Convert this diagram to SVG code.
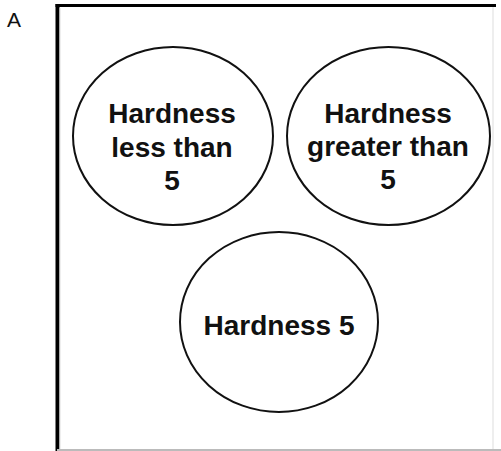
<svg xmlns="http://www.w3.org/2000/svg" width="501" height="451" viewBox="0 0 501 451">
<style>
.node ellipse{fill:#fff;stroke:#111;stroke-width:2}
.node text{font-family:"Liberation Sans",Arial,sans-serif;font-weight:bold;font-size:28px;fill:#111;text-anchor:middle}
.lbl{font-family:"Liberation Sans",Arial,sans-serif;font-size:21px;fill:#111}
</style>
<rect width="501" height="451" fill="#fff"/>
<text class="lbl" x="7" y="27">A</text>
<g id="frame">
<line x1="57.5" y1="4" x2="57.5" y2="451" stroke="#000" stroke-width="4"/>
<line x1="55.5" y1="5.5" x2="496" y2="5.5" stroke="#000" stroke-width="3"/>
<line x1="60" y1="8" x2="60" y2="449" stroke="#ddd" stroke-width="1"/>
<line x1="493" y1="7" x2="493" y2="449" stroke="#eee" stroke-width="2"/>
<line x1="57" y1="450" x2="501" y2="450" stroke="#bbb" stroke-width="2"/>
</g>
<g id="connectors"></g>
<g id="less" class="node">
<ellipse cx="173" cy="136" rx="100" ry="89"/>
<text x="172" y="123">Hardness</text>
<text x="172" y="157">less than</text>
<text x="172" y="190">5</text>
</g>
<g id="greater" class="node">
<ellipse cx="388.5" cy="136" rx="101.5" ry="89"/>
<text x="388" y="123">Hardness</text>
<text x="388" y="156">greater than</text>
<text x="388" y="189">5</text>
</g>
<g id="equal" class="node">
<ellipse cx="279" cy="322" rx="99" ry="90"/>
<text x="279" y="335">Hardness 5</text>
</g>
</svg>
